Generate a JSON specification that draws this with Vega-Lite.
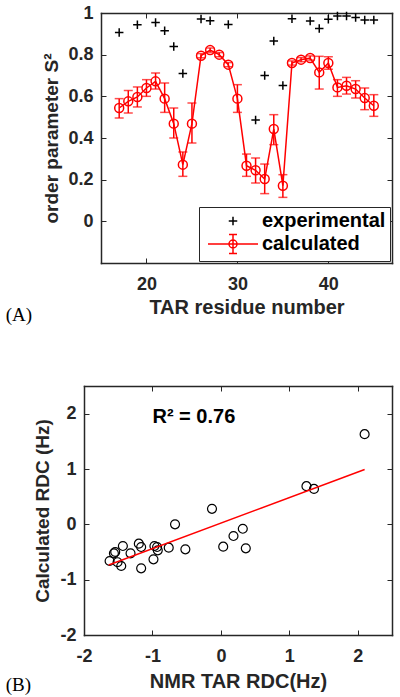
{
  "$schema": "https://vega.github.io/schema/vega-lite/v6.json",
  "padding": {"left": 5, "top": 4, "right": 5, "bottom": 5},
  "spacing": 60,
  "resolve": {"scale": {"color": "independent", "shape": "independent"}, "legend": {"color": "independent", "shape": "independent"}},
  "config": {
    "font": "Liberation Sans",
    "view": {"stroke": null},
    "axis": {
      "labelFont": "Liberation Sans", "labelFontSize": 18, "labelFontWeight": "bold", "labelColor": "#262626",
      "titleFont": "Liberation Sans", "titleFontSize": 19, "titleFontWeight": "bold", "titleColor": "#262626",
      "domainColor": "#262626", "domainWidth": 1.5, "domainCap": "square",
      "tickColor": "#262626", "tickWidth": 1, "tickSize": -5, "grid": false, "labelFlush": false
    },
    "axisBottom": {"titleFontSize": 20},
    "legend": {
      "title": null, "orient": "bottom-right", "offset": 2, "padding": 4,
      "strokeColor": "#262626", "fillColor": "white",
      "labelFont": "Liberation Sans", "labelFontSize": 20, "labelFontWeight": "bold", "labelColor": "black",
      "symbolSize": 100, "symbolStrokeWidth": 1.5, "symbolOffset": 20, "labelOffset": 19, "rowPadding": 0
    }
  },
  "vconcat": [
    {
      "width": 308,
      "height": 250,
      "resolve": {"axis": {"x": "independent", "y": "independent"}},
      "layer": [
        {
          "data": {"values": [
            {"residue": 17, "s2": 0.906, "series": "experimental"},
            {"residue": 19, "s2": 0.944, "series": "experimental"},
            {"residue": 21, "s2": 0.955, "series": "experimental"},
            {"residue": 22, "s2": 0.915, "series": "experimental"},
            {"residue": 23, "s2": 0.839, "series": "experimental"},
            {"residue": 24, "s2": 0.71, "series": "experimental"},
            {"residue": 26, "s2": 0.971, "series": "experimental"},
            {"residue": 27, "s2": 0.963, "series": "experimental"},
            {"residue": 29, "s2": 0.945, "series": "experimental"},
            {"residue": 32, "s2": 0.486, "series": "experimental"},
            {"residue": 33, "s2": 0.70, "series": "experimental"},
            {"residue": 34, "s2": 0.866, "series": "experimental"},
            {"residue": 35, "s2": 0.652, "series": "experimental"},
            {"residue": 36, "s2": 0.972, "series": "experimental"},
            {"residue": 38, "s2": 0.962, "series": "experimental"},
            {"residue": 39, "s2": 0.926, "series": "experimental"},
            {"residue": 40, "s2": 0.970, "series": "experimental"},
            {"residue": 41, "s2": 0.986, "series": "experimental"},
            {"residue": 42, "s2": 0.986, "series": "experimental"},
            {"residue": 43, "s2": 0.979, "series": "experimental"},
            {"residue": 44, "s2": 0.967, "series": "experimental"},
            {"residue": 45, "s2": 0.967, "series": "experimental"}
          ]},
          "mark": {"type": "point", "filled": false, "strokeWidth": 1.5, "size": 100, "opacity": 1},
          "encoding": {
            "x": {"field": "residue", "type": "quantitative",
              "scale": {"domain": [15, 47], "range": [17, 308], "nice": false, "zero": false},
              "axis": {"orient": "bottom", "values": [20, 30, 40], "title": "TAR residue number", "labelPadding": 17, "titlePadding": 4}},
            "y": {"field": "s2", "type": "quantitative",
              "scale": {"domain": [-0.2, 1], "nice": false, "zero": false},
              "axis": {"orient": "left", "values": [0, 0.2, 0.4, 0.6, 0.8, 1], "format": "~g", "title": "order parameter S²", "offset": -17, "labelPadding": 13, "titlePadding": 6}},
            "shape": {"field": "series", "type": "nominal",
              "scale": {"domain": ["experimental", "calculated"],
                "range": ["M-0.85,0H0.85M0,-0.85V0.85", "M-5,0H5M0,-1.9V1.9M-0.8,-1.9H0.8M-0.8,1.9H0.8M0.8,0A0.8,0.8,0,1,1,-0.8,0A0.8,0.8,0,1,1,0.8,0"]}},
            "color": {"field": "series", "type": "nominal",
              "scale": {"domain": ["experimental", "calculated"], "range": ["black", "#ff0000"]}}
          }
        },
        {
          "data": {"name": "calc"},
          "mark": {"type": "line", "color": "#ff0000", "strokeWidth": 1.5},
          "encoding": {
            "x": {"field": "residue", "type": "quantitative", "axis": null},
            "y": {"field": "s2", "type": "quantitative", "axis": null}
          }
        },
        {
          "data": {"name": "calc"},
          "mark": {"type": "rule", "color": "#ff0000", "strokeWidth": 1.5},
          "encoding": {
            "x": {"field": "residue", "type": "quantitative",
              "axis": {"orient": "top", "values": [20, 30, 40], "labels": false, "title": null}},
            "y": {"field": "lo", "type": "quantitative",
              "axis": {"orient": "right", "values": [0, 0.2, 0.4, 0.6, 0.8, 1], "labels": false, "title": null}},
            "y2": {"field": "hi"}
          }
        },
        {
          "data": {"name": "calc"},
          "mark": {"type": "tick", "orient": "horizontal", "color": "#ff0000", "size": 9, "thickness": 1.5},
          "encoding": {
            "x": {"field": "residue", "type": "quantitative", "axis": null},
            "y": {"field": "lo", "type": "quantitative", "axis": null}
          }
        },
        {
          "data": {"name": "calc"},
          "mark": {"type": "tick", "orient": "horizontal", "color": "#ff0000", "size": 9, "thickness": 1.5},
          "encoding": {
            "x": {"field": "residue", "type": "quantitative", "axis": null},
            "y": {"field": "hi", "type": "quantitative", "axis": null}
          }
        },
        {
          "data": {"name": "calc"},
          "mark": {"type": "point", "shape": "circle", "filled": false, "color": "#ff0000", "strokeWidth": 1.5, "size": 80, "opacity": 1},
          "encoding": {
            "x": {"field": "residue", "type": "quantitative", "axis": null},
            "y": {"field": "s2", "type": "quantitative", "axis": null}
          }
        },
        {
          "data": {"values": [{}]},
          "mark": {"type": "text", "text": "(A)", "font": "Liberation Serif", "fontSize": 19, "align": "left", "baseline": "middle", "color": "black", "clip": false},
          "encoding": {
            "x": {"datum": 4.52, "type": "quantitative", "axis": null},
            "y": {"datum": -0.448, "type": "quantitative", "axis": null}
          }
        }
      ]
    },
    {
      "width": 308,
      "height": 249,
      "resolve": {"axis": {"x": "independent", "y": "independent"}},
      "layer": [
        {
          "data": {"values": [
            {"nmr": 2.10, "calc": 1.63},
            {"nmr": 1.25, "calc": 0.69},
            {"nmr": 1.36, "calc": 0.64},
            {"nmr": -0.13, "calc": 0.28},
            {"nmr": -0.67, "calc": 0.0},
            {"nmr": 0.32, "calc": -0.08},
            {"nmr": 0.184, "calc": -0.211},
            {"nmr": 0.034, "calc": -0.404},
            {"nmr": 0.364, "calc": -0.434},
            {"nmr": -0.519, "calc": -0.452},
            {"nmr": -0.762, "calc": -0.422},
            {"nmr": -0.922, "calc": -0.47},
            {"nmr": -0.932, "calc": -0.41},
            {"nmr": -0.971, "calc": -0.392},
            {"nmr": -0.985, "calc": -0.633},
            {"nmr": -1.165, "calc": -0.795},
            {"nmr": -1.165, "calc": -0.41},
            {"nmr": -1.199, "calc": -0.349},
            {"nmr": -1.32, "calc": -0.524},
            {"nmr": -1.432, "calc": -0.392},
            {"nmr": -1.456, "calc": -0.753},
            {"nmr": -1.51, "calc": -0.685},
            {"nmr": -1.544, "calc": -0.5},
            {"nmr": -1.563, "calc": -0.524},
            {"nmr": -1.626, "calc": -0.663}
          ]},
          "mark": {"type": "point", "shape": "circle", "filled": false, "color": "black", "strokeWidth": 1.2, "size": 80, "opacity": 1},
          "encoding": {
            "x": {"field": "nmr", "type": "quantitative",
              "scale": {"domain": [-2, 2.5], "nice": false, "zero": false},
              "axis": {"orient": "bottom", "values": [-2, -1, 0, 1, 2], "labelExpr": "'' + datum.value", "title": "NMR TAR RDC(Hz)", "labelPadding": 17, "titlePadding": 6}},
            "y": {"field": "calc", "type": "quantitative",
              "scale": {"domain": [-2, 2.5], "nice": false, "zero": false},
              "axis": {"orient": "left", "values": [-2, -1, 0, 1, 2], "labelExpr": "'' + datum.value", "title": "Calculated RDC (Hz)", "labelPadding": 13, "titlePadding": 7}}
          }
        },
        {
          "data": {"values": [
            {"nmr": -1.64, "calc": -0.735},
            {"nmr": 2.10, "calc": 0.99}
          ]},
          "mark": {"type": "line", "color": "#ff0000", "strokeWidth": 1.5},
          "encoding": {
            "x": {"field": "nmr", "type": "quantitative",
              "axis": {"orient": "top", "values": [-2, -1, 0, 1, 2], "labels": false, "title": null}},
            "y": {"field": "calc", "type": "quantitative",
              "axis": {"orient": "right", "values": [-2, -1, 0, 1, 2], "labels": false, "title": null}}
          }
        },
        {
          "data": {"values": [{}]},
          "mark": {"type": "text", "text": "R² = 0.76", "font": "Liberation Sans", "fontWeight": "bold", "fontSize": 20, "align": "left", "baseline": "middle", "color": "black"},
          "encoding": {
            "x": {"datum": -1.0, "type": "quantitative", "axis": null},
            "y": {"datum": 1.944, "type": "quantitative", "axis": null}
          }
        },
        {
          "data": {"values": [{}]},
          "mark": {"type": "text", "text": "(B)", "font": "Liberation Serif", "fontSize": 19, "align": "left", "baseline": "middle", "color": "black", "clip": false},
          "encoding": {
            "x": {"datum": -3.144, "type": "quantitative", "axis": null},
            "y": {"datum": -2.904, "type": "quantitative", "axis": null}
          }
        }
      ]
    }
  ],
  "datasets": {
    "calc": [
      {"residue": 17, "s2": 0.544, "lo": 0.496, "hi": 0.589},
      {"residue": 18, "s2": 0.576, "lo": 0.52, "hi": 0.628},
      {"residue": 19, "s2": 0.597, "lo": 0.549, "hi": 0.645},
      {"residue": 20, "s2": 0.64, "lo": 0.6, "hi": 0.68},
      {"residue": 21, "s2": 0.672, "lo": 0.635, "hi": 0.712},
      {"residue": 22, "s2": 0.589, "lo": 0.523, "hi": 0.664},
      {"residue": 23, "s2": 0.469, "lo": 0.4, "hi": 0.544},
      {"residue": 24, "s2": 0.272, "lo": 0.216, "hi": 0.333},
      {"residue": 25, "s2": 0.469, "lo": 0.376, "hi": 0.568},
      {"residue": 26, "s2": 0.795, "lo": 0.785, "hi": 0.805},
      {"residue": 27, "s2": 0.822, "lo": 0.812, "hi": 0.832},
      {"residue": 28, "s2": 0.80, "lo": 0.79, "hi": 0.81},
      {"residue": 29, "s2": 0.752, "lo": 0.742, "hi": 0.762},
      {"residue": 30, "s2": 0.589, "lo": 0.523, "hi": 0.656},
      {"residue": 31, "s2": 0.267, "lo": 0.216, "hi": 0.323},
      {"residue": 32, "s2": 0.245, "lo": 0.184, "hi": 0.304},
      {"residue": 33, "s2": 0.203, "lo": 0.133, "hi": 0.275},
      {"residue": 34, "s2": 0.443, "lo": 0.368, "hi": 0.512},
      {"residue": 35, "s2": 0.171, "lo": 0.115, "hi": 0.224},
      {"residue": 36, "s2": 0.76, "lo": 0.75, "hi": 0.77},
      {"residue": 37, "s2": 0.776, "lo": 0.766, "hi": 0.786},
      {"residue": 38, "s2": 0.784, "lo": 0.774, "hi": 0.794},
      {"residue": 39, "s2": 0.715, "lo": 0.635, "hi": 0.792},
      {"residue": 40, "s2": 0.76, "lo": 0.73, "hi": 0.79},
      {"residue": 41, "s2": 0.643, "lo": 0.6, "hi": 0.68},
      {"residue": 42, "s2": 0.651, "lo": 0.611, "hi": 0.691},
      {"residue": 43, "s2": 0.635, "lo": 0.592, "hi": 0.675},
      {"residue": 44, "s2": 0.592, "lo": 0.536, "hi": 0.64},
      {"residue": 45, "s2": 0.555, "lo": 0.504, "hi": 0.608}
    ]
  }
}
